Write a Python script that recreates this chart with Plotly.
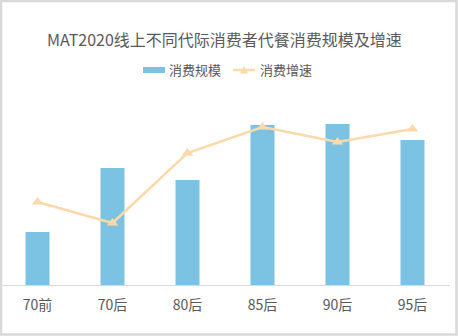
import plotly.graph_objects as go

categories = ["70前", "70后", "80后", "85后", "90后", "95后"]
scale_values = [53, 117, 105, 160, 161, 145]      # 消费规模 (relative)
growth_values = [83, 62, 132, 158, 143, 156]      # 消费增速 (relative)

title_text = "MAT2020线上不同代际消费者代餐消费规模及增速"
bar_name = "消费规模"
line_name = "消费增速"

W, H = 458, 336
ml, mr, mt, mb = 0, 8, 90, 51
pw, ph = W - ml - mr, H - mt - mb

font_family = "Noto Sans CJK SC, Noto Sans, sans-serif"
text_color = "#595959"
bar_color = "#7cc3e3"
line_color = "#fbd9aa"

fig = go.Figure()
fig.add_trace(go.Bar(
    x=categories, y=scale_values, name=bar_name,
    marker=dict(color=bar_color, line=dict(width=0)),
))
fig.add_trace(go.Scatter(
    x=categories, y=growth_values, name=line_name, yaxis="y2",
    mode="lines+markers",
    line=dict(color=line_color, width=2.5),
    marker=dict(symbol="triangle-up", size=10, color=line_color),
))

def px_x(px):
    return (px - ml) / pw

def px_y(py):
    return (H - mb - py) / ph

ly = 70
shapes = [
    dict(type="rect", xref="paper", yref="paper",
         x0=px_x(1), x1=px_x(456.5), y0=px_y(334.5), y1=px_y(1),
         line=dict(color="#d9d9d9", width=2.5), layer="above"),
    # legend: bar swatch
    dict(type="rect", xref="paper", yref="paper",
         x0=px_x(143), x1=px_x(165), y0=px_y(73), y1=px_y(67),
         fillcolor=bar_color, line=dict(width=0)),
    # legend: line swatch
    dict(type="line", xref="paper", yref="paper",
         x0=px_x(233), x1=px_x(255), y0=px_y(ly), y1=px_y(ly),
         line=dict(color=line_color, width=2.5)),
    dict(type="path", xref="paper", yref="paper",
         path="M {} {} L {} {} L {} {} Z".format(
             px_x(240), px_y(73.5), px_x(248), px_y(73.5), px_x(244), px_y(66)),
         fillcolor=line_color, line=dict(width=0)),
]

annotations = [
    dict(text=bar_name, xref="paper", yref="paper", x=px_x(167), y=px_y(ly),
         xanchor="left", yanchor="middle", showarrow=False,
         font=dict(size=13, color=text_color)),
    dict(text=line_name, xref="paper", yref="paper", x=px_x(258), y=px_y(ly),
         xanchor="left", yanchor="middle", showarrow=False,
         font=dict(size=13, color=text_color)),
]

fig.update_layout(
    width=W, height=H,
    margin=dict(l=ml, r=mr, t=mt, b=mb, pad=0),
    paper_bgcolor="white", plot_bgcolor="white",
    font=dict(family=font_family, color=text_color, size=13),
    title=dict(text=title_text, x=0.49, xanchor="center",
               y=1 - 40 / H, yanchor="middle",
               font=dict(size=16, color=text_color, family=font_family)),
    bargap=0.68,
    showlegend=False,
    xaxis=dict(showgrid=False, showline=True, linecolor="#d9d9d9", linewidth=1,
               ticks="outside", ticklen=7, tickcolor="rgba(0,0,0,0)",
               tickfont=dict(size=14, color=text_color), zeroline=False),
    yaxis=dict(range=[0, ph], visible=False, showgrid=False, zeroline=False),
    yaxis2=dict(range=[0, ph], overlaying="y", side="right", visible=False,
                showgrid=False, zeroline=False),
    shapes=shapes,
    annotations=annotations,
)

fig.write_html("out.html")
